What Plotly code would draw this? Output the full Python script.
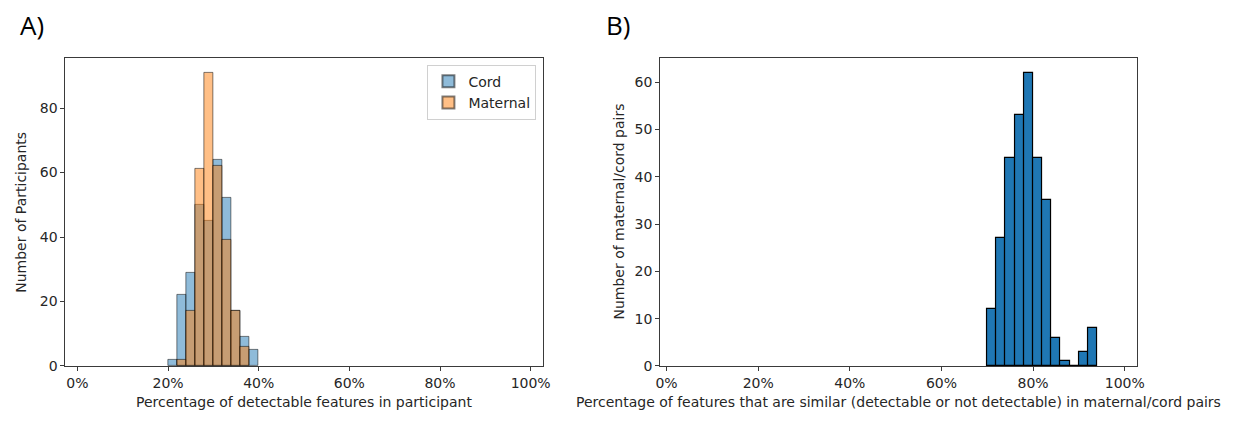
import plotly.graph_objects as go

# ---- Data (bin width 2 percentage points) ----
bin_width = 2
cord_bin_left = [20, 22, 24, 26, 28, 30, 32, 34, 36, 38]
cord_counts = [2, 22, 29, 50, 45, 64, 52, 17, 9, 5]

maternal_bin_left = [22, 24, 26, 28, 30, 32, 34, 36]
maternal_counts = [2, 17, 61, 91, 62, 39, 17, 6]

pairs_bin_left = [70, 72, 74, 76, 78, 80, 82, 84, 86, 88, 90, 92]
pairs_counts = [12, 27, 44, 53, 62, 44, 35, 6, 1, 0, 3, 8]

x_ticks = [0, 20, 40, 60, 80, 100]
x_tick_labels = ["0%", "20%", "40%", "60%", "80%", "100%"]
yA_ticks = [0, 20, 40, 60, 80]
yB_ticks = [0, 10, 20, 30, 40, 50, 60]

W, H = 1253, 426
FONT = "DejaVu Sans"
FS = 14
TXT = "#262626"

fig = go.Figure()

fig.add_trace(go.Bar(
    x=cord_bin_left, y=cord_counts, width=bin_width, offset=0,
    name="Cord",
    marker=dict(color="rgba(31,119,180,0.5)", line=dict(color="rgba(0,0,0,0.5)", width=1)),
    xaxis="x", yaxis="y",
))
fig.add_trace(go.Bar(
    x=maternal_bin_left, y=maternal_counts, width=bin_width, offset=0,
    name="Maternal",
    marker=dict(color="rgba(255,127,14,0.5)", line=dict(color="rgba(0,0,0,0.5)", width=1)),
    xaxis="x", yaxis="y",
))
fig.add_trace(go.Bar(
    x=pairs_bin_left, y=pairs_counts, width=bin_width, offset=0,
    name="Pairs", showlegend=False,
    marker=dict(color="#1f77b4", line=dict(color="#000000", width=1.2)),
    xaxis="x2", yaxis="y2",
))

def px_x(p):
    return p / W

def px_y(p):
    return 1 - p / H

axis_common = dict(
    showline=True, mirror=True, linecolor="#3a3a3a", linewidth=1,
    ticks="outside", ticklen=4, tickcolor="#3a3a3a", tickwidth=1,
    showgrid=False, zeroline=False,
    tickfont=dict(family=FONT, size=FS, color=TXT),
)

fig.update_layout(
    width=W, height=H,
    margin=dict(l=0, r=0, t=0, b=0),
    paper_bgcolor="white", plot_bgcolor="white",
    barmode="overlay", bargap=0,
    font=dict(family=FONT, size=FS, color=TXT),
    xaxis=dict(domain=[px_x(61), px_x(544)], range=[-2.65, 102.8],
               tickmode="array", tickvals=x_ticks, ticktext=x_tick_labels,
               anchor="y", **axis_common),
    yaxis=dict(domain=[px_y(373), px_y(59)], range=[0, 95.55],
               tickmode="array", tickvals=yA_ticks, anchor="x", **axis_common),
    xaxis2=dict(domain=[px_x(662), px_x(1144)], range=[-1.4, 102.7],
                tickmode="array", tickvals=x_ticks, ticktext=x_tick_labels,
                anchor="y2", **axis_common),
    yaxis2=dict(domain=[px_y(373), px_y(59)], range=[0, 65.1],
                tickmode="array", tickvals=yB_ticks, anchor="x2", **axis_common),
    legend=dict(
        x=px_x(537), xanchor="right", y=px_y(66), yanchor="top",
        bgcolor="rgba(255,255,255,0.8)", bordercolor="#d0d0d0", borderwidth=1,
        font=dict(family=FONT, size=FS, color=TXT),
        itemsizing="constant", tracegroupgap=0,
    ),
    annotations=[
        dict(text="A)", x=px_x(13), y=px_y(5), xref="paper", yref="paper",
             xanchor="left", yanchor="top", showarrow=False,
             font=dict(family="Open Sans", size=26, color="#000000")),
        dict(text="B)", x=px_x(605), y=px_y(5), xref="paper", yref="paper",
             xanchor="left", yanchor="top", showarrow=False,
             font=dict(family="Open Sans", size=26, color="#000000")),
        dict(text="Percentage of detectable features in participant",
             x=px_x(302), y=px_y(410), xref="paper", yref="paper",
             xanchor="center", yanchor="middle", showarrow=False,
             font=dict(family=FONT, size=FS, color=TXT)),
        dict(text="Number of Participants",
             x=px_x(16), y=px_y(216), xref="paper", yref="paper",
             xanchor="center", yanchor="middle", showarrow=False, textangle=-90,
             font=dict(family=FONT, size=FS, color=TXT)),
        dict(text="Percentage of features that are similar (detectable or not detectable) in maternal/cord pairs",
             x=px_x(903), y=px_y(410), xref="paper", yref="paper",
             xanchor="center", yanchor="middle", showarrow=False,
             font=dict(family=FONT, size=FS, color=TXT)),
        dict(text="Number of maternal/cord pairs",
             x=px_x(620), y=px_y(216), xref="paper", yref="paper",
             xanchor="center", yanchor="middle", showarrow=False, textangle=-90,
             font=dict(family=FONT, size=FS, color=TXT)),
    ],
)

fig.write_html(
    "out.html",
    config={"displayModeBar": False},
    post_script="document.body.style.margin='0';",
)
